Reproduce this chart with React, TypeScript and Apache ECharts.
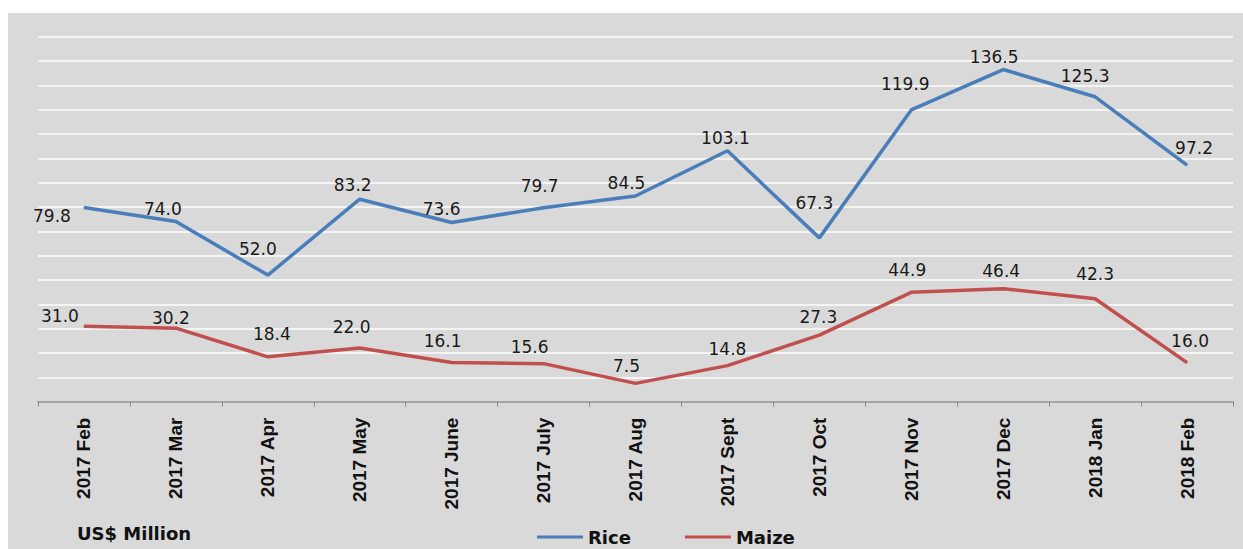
import React, { useEffect, useRef } from "react";
import * as echarts from "echarts";

const categories = [
  "2017 Feb", "2017 Mar", "2017 Apr", "2017 May", "2017 June", "2017 July",
  "2017 Aug", "2017 Sept", "2017 Oct", "2017 Nov", "2017 Dec", "2018 Jan", "2018 Feb",
];
const riceValues = [79.8, 74.0, 52.0, 83.2, 73.6, 79.7, 84.5, 103.1, 67.3, 119.9, 136.5, 125.3, 97.2];
const maizeValues = [31.0, 30.2, 18.4, 22.0, 16.1, 15.6, 7.5, 14.8, 27.3, 44.9, 46.4, 42.3, 16.0];

// label nudges (styling only)
const riceLabelOffsets = [
  [-32, 23], [-13, 1], [-10, -12], [-7, 0], [-10, 0], [-4, -8], [-9, 1],
  [-2, 1], [-5, -21], [-6, -12], [-9, 1], [-10, -7], [7, -3],
];
const maizeLabelOffsets = [
  [-24, 4], [-5, 4], [4, -9], [-8, -7], [-9, -7], [-14, -3], [-9, -3],
  [0, -3], [-1, -4], [-4, -8], [-2, -4], [0, -11], [3, -8],
];

const RICE = "#4a7ebb";
const MAIZE = "#c0504d";

export default function App() {
  const ref = useRef<HTMLDivElement>(null);
  useEffect(() => {
    if (!ref.current) return;
    const chart = echarts.init(ref.current, null, { renderer: "svg" });
    const labelBase = {
      show: true,
      position: "top",
      distance: 5,
      fontFamily: "DejaVu Sans",
      fontSize: 17,
      color: "#1a1a1a",
      formatter: (p: any) => Number(p.value).toFixed(1),
    };
    const mk = (vals: number[], offs: number[][]) =>
      vals.map((v, i) => ({ value: v, label: { offset: offs[i] } }));
    chart.setOption({
      animation: false,
      backgroundColor: "#d9d9d9",
      grid: { left: 30, right: 10, top: 23.7, bottom: 147.4, containLabel: false },
      xAxis: {
        type: "category",
        data: categories,
        boundaryGap: true,
        axisLine: { show: true, lineStyle: { color: "#8a8a8a", width: 1.5 } },
        axisTick: { show: true, length: 5, lineStyle: { color: "#8a8a8a" } },
        axisLabel: {
          rotate: 90,
          margin: 16,
          fontFamily: "Liberation Sans",
          fontWeight: "bold",
          fontSize: 19,
          color: "#111",
          interval: 0,
        },
        splitLine: { show: false },
      },
      yAxis: {
        type: "value",
        min: 0,
        max: 150,
        interval: 10,
        axisLine: { show: false },
        axisTick: { show: false },
        axisLabel: { show: false },
        splitLine: { show: true, lineStyle: { color: "#f4f4f4", width: 2 } },
      },
      legend: {
        left: 524,
        top: 510,
        icon: "rect",
        itemWidth: 46,
        itemHeight: 3,
        itemGap: 54,
        textStyle: {
          fontFamily: "DejaVu Sans",
          fontWeight: "bold",
          fontSize: 18,
          color: "#111",
        },
        data: ["Rice", "Maize"],
      },
      graphic: [
        {
          type: "text",
          left: 69,
          top: 511,
          style: {
            text: "US$ Million",
            fontFamily: "DejaVu Sans",
            fontWeight: "bold",
            fontSize: 18,
            fill: "#111",
          },
        },
      ],
      series: [
        {
          name: "Rice",
          type: "line",
          data: mk(riceValues, riceLabelOffsets),
          symbol: "circle",
          symbolSize: 1,
          showSymbol: true,
          itemStyle: { color: RICE },
          lineStyle: { color: RICE, width: 3.5 },
          label: labelBase,
        },
        {
          name: "Maize",
          type: "line",
          data: mk(maizeValues, maizeLabelOffsets),
          symbol: "circle",
          symbolSize: 1,
          showSymbol: true,
          itemStyle: { color: MAIZE },
          lineStyle: { color: MAIZE, width: 3.5 },
          label: labelBase,
        },
      ],
    });
    return () => chart.dispose();
  }, []);
  return (
    <div style={{ position: "fixed", left: 0, top: 0, width: 1243, height: 549, background: "#fff", overflow: "hidden" }}>
      <div ref={ref} style={{ position: "absolute", left: 8, top: 13, width: 1235, height: 536 }} />
    </div>
  );
}
